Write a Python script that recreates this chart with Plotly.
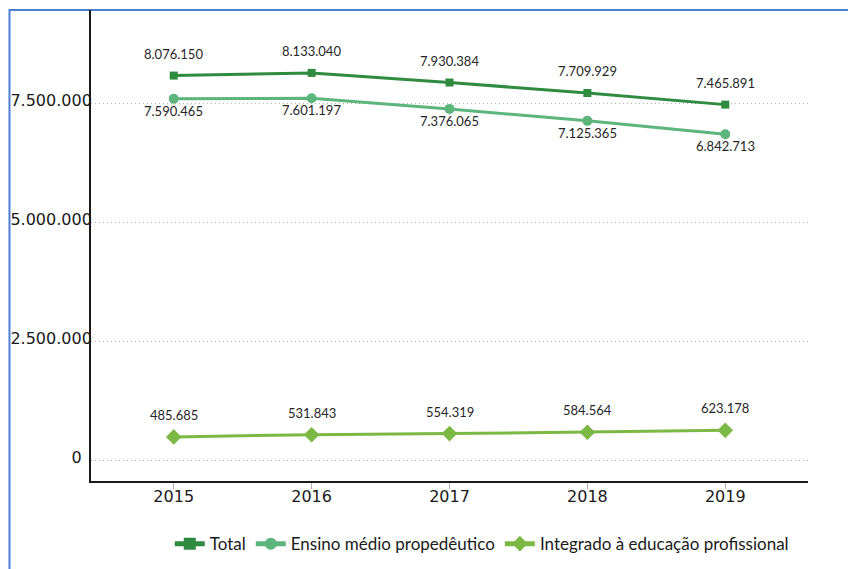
import plotly.graph_objects as go

years = ["2015", "2016", "2017", "2018", "2019"]
total = [8076150, 8133040, 7930384, 7709929, 7465891]
propedeutico = [7590465, 7601197, 7376065, 7125365, 6842713]
integrado = [485685, 531843, 554319, 584564, 623178]
y_ticks = [0, 2500000, 5000000, 7500000]
y_tick_labels = ["0\u00a0\u00a0", "2.500.000", "5.000.000", "7.500.000"]

names = ["Total", "Ensino médio propedêutico", "Integrado à educação profissional"]
colors = ["#2e8b3f", "#5cb57d", "#7bb844"]
symbols = ["square", "circle", "diamond"]
msizes = [8, 10, 12]
series = [total, propedeutico, integrado]
label_shift = [22, -12, 22]


def fmt(v):
    return f"{v:,}".replace(",", ".")


fig = go.Figure()
for name, vals, c, s, ms in zip(names, series, colors, symbols, msizes):
    fig.add_trace(go.Scatter(
        x=years, y=vals, name=name, mode="lines+markers",
        line=dict(color=c, width=3),
        marker=dict(symbol=s, size=ms, color=c),
    ))

annotations = []
for vals, sh in zip(series, label_shift):
    for i, yv in enumerate(vals):
        annotations.append(dict(
            x=i, y=yv, xref="x", yref="y", text=fmt(yv), showarrow=False, yshift=sh,
            font=dict(family="Lato, Liberation Sans, sans-serif", size=13, color="#262626"),
        ))

fig.update_layout(
    width=856, height=569,
    margin=dict(l=83, r=56, t=2, b=96),
    paper_bgcolor="white", plot_bgcolor="white",
    annotations=annotations,
    showlegend=True,
    legend=dict(
        orientation="h", x=0.545, xanchor="center", y=-0.134, yanchor="middle",
        font=dict(family="Lato, Liberation Sans, sans-serif", size=17, color="#1a1a1a"),
        itemsizing="constant", itemwidth=30, tracegroupgap=0,
    ),
    shapes=[dict(
        type="rect", xref="paper", yref="paper",
        x0=-0.1137, x1=1.3, y0=-0.4, y1=1.0,
        line=dict(color="#4a7fd4", width=2), layer="below",
    )],
)

fig.update_xaxes(
    type="category", range=[-0.6, 4.6],
    showline=True, linecolor="#1a1a1a", linewidth=2,
    ticks="outside", ticklen=6, tickcolor="#b0b0b0", tickwidth=1,
    ticklabelstandoff=-6,
    showgrid=False, zeroline=False,
    tickfont=dict(family="DejaVu Sans, sans-serif", size=16, color="#1a1a1a"),
)
fig.update_yaxes(
    range=[-441000, 9454000],
    tickvals=y_ticks, ticktext=y_tick_labels,
    showline=True, linecolor="#1a1a1a", linewidth=2,
    showgrid=True, gridcolor="#b0b0b0", griddash="1px,3px", gridwidth=1,
    zeroline=False, ticks="",
    ticklabelstandoff=-6, ticklabelshift=-3,
    tickfont=dict(family="DejaVu Sans, sans-serif", size=16, color="#1a1a1a"),
)

fig.write_html("out.html")
